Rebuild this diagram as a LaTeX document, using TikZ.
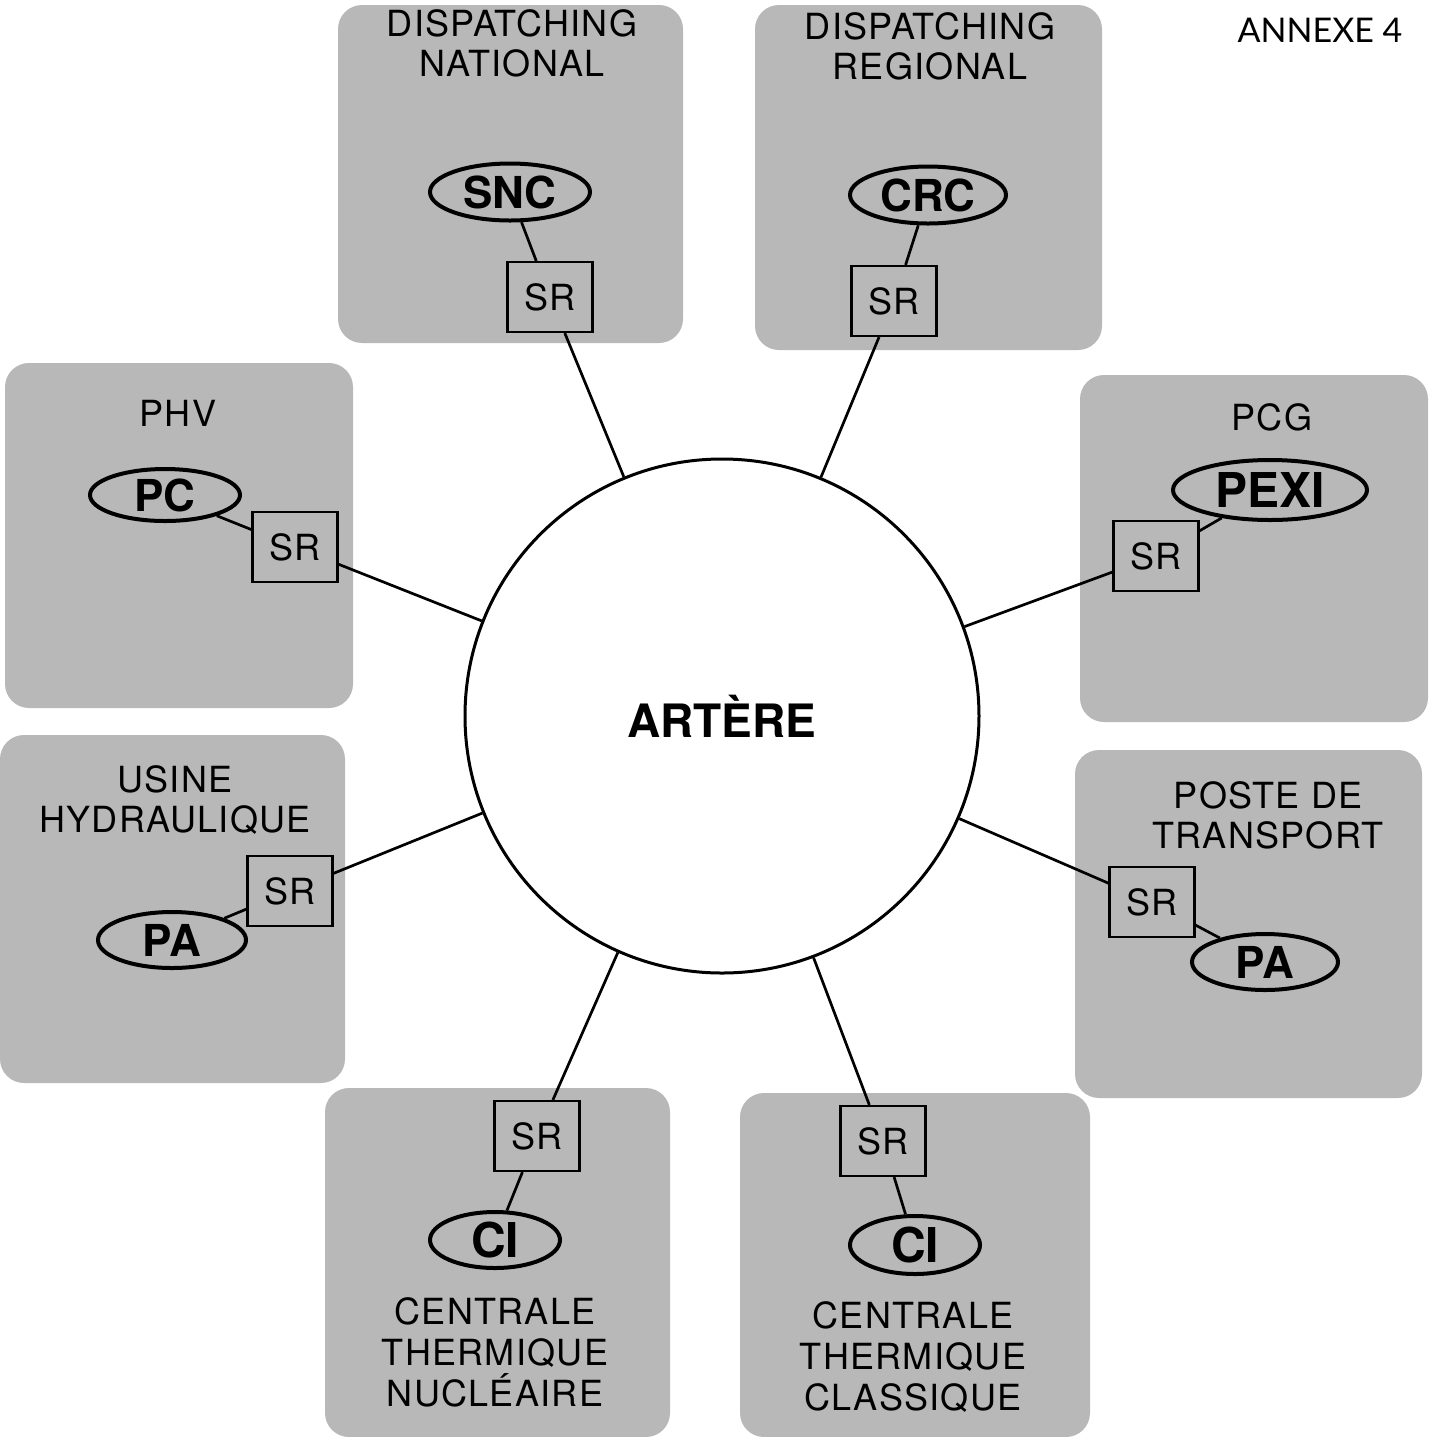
\documentclass[tikz,border=0pt]{standalone}
\usepackage{fontspec}
\setmainfont{TeX Gyre Heros}
\newfontfamily\annexfont{Lato}
\newfontfamily\spacedfont[LetterSpace=3.5]{TeX Gyre Heros}
\usetikzlibrary{shapes.geometric}
\definecolor{panelgray}{gray}{0.72}
\begin{document}
\begin{tikzpicture}[x=0.5pt,y=-0.5pt,
 panel/.style={fill=panelgray, rounded corners=12pt},
 lbl/.style={align=center, font=\spacedfont\fontsize{18}{20}\selectfont, inner sep=0pt},
 oval/.style={ellipse, draw, line width=2pt, fill=panelgray, inner sep=0pt, font=\fontsize{22}{24}\selectfont\bfseries},
 srbox/.style={draw, line width=1.1pt, minimum width=42.5pt, minimum height=35pt, inner sep=0pt, font=\spacedfont\fontsize{18}{20}\selectfont},
 link/.style={line width=1.35pt}]
\useasboundingbox (0,0) rectangle (1431,1437);
% panels
\fill[panel] (338,5) rectangle (683,343);
\fill[panel] (755,5) rectangle (1102,350);
\fill[panel] (5,363) rectangle (353,708);
\fill[panel] (1080,375) rectangle (1428,722);
\fill[panel] (0,735) rectangle (345,1083);
\fill[panel] (1075,750) rectangle (1422,1098);
\fill[panel] (325,1088) rectangle (670,1437);
\fill[panel] (740,1093) rectangle (1090,1437);
% titles
\node[lbl] (t1) at (512,43) {DISPATCHING\\NATIONAL};
\node[lbl] (t2) at (930,46) {DISPATCHING\\REGIONAL};
\node[lbl] (t3) at (178,413) {PHV};
\node[lbl] (t4) at (1272,417) {PCG};
\node[lbl] (t5) at (175,800) {USINE\\HYDRAULIQUE};
\node[lbl] (t6) at (1268,815) {POSTE DE\\TRANSPORT};
\node[lbl, font=\spacedfont\fontsize{18}{20.5}\selectfont] (t7) at (495,1352) {CENTRALE\\THERMIQUE\\NUCLÉAIRE};
\node[lbl, font=\spacedfont\fontsize{18}{20.5}\selectfont] (t8) at (913,1357) {CENTRALE\\THERMIQUE\\CLASSIQUE};
\node[inner sep=0pt, font=\annexfont\fontsize{17}{20}\selectfont] (annex) at (1320,30) {ANNEXE 4};
% central circle
\node[circle, draw, line width=1.5pt, fill=white, minimum size=257pt, inner sep=0pt,
      font=\fontsize{23}{26}\selectfont\bfseries] (art) at (722,716) {ARTÈRE};
% ovals
\node[oval, minimum width=80pt, minimum height=28.5pt] (snc) at (510,192) {SNC};
\node[oval, minimum width=78pt, minimum height=28.5pt] (crc) at (928,195) {CRC};
\node[oval, minimum width=75pt, minimum height=26pt] (pc) at (165,495) {PC};
\node[oval, minimum width=97pt, minimum height=30pt, font=\fontsize{24}{26}\selectfont\bfseries] (pexi) at (1270,490) {PEXI};
\node[oval, minimum width=74pt, minimum height=28pt] (pa1) at (172,940) {PA};
\node[oval, minimum width=73pt, minimum height=28pt] (pa2) at (1265,962) {PA};
\node[oval, minimum width=65pt, minimum height=28pt, font=\fontsize{24}{26}\selectfont\bfseries] (ci1) at (495,1240) {CI};
\node[oval, minimum width=65pt, minimum height=29pt, font=\fontsize{24}{26}\selectfont\bfseries] (ci2) at (915,1245) {CI};
% SR boxes
\node[srbox] (sr1) at (550,297) {SR};
\node[srbox] (sr2) at (894,301) {SR};
\node[srbox] (sr3) at (295,547) {SR};
\node[srbox] (sr4) at (1156,556) {SR};
\node[srbox] (sr5) at (290,891) {SR};
\node[srbox] (sr6) at (1152,902) {SR};
\node[srbox] (sr7) at (537,1136) {SR};
\node[srbox] (sr8) at (883,1141) {SR};
% connectors
\foreach \o/\s in {snc/sr1, crc/sr2, pc/sr3, pexi/sr4, pa1/sr5, pa2/sr6, ci1/sr7, ci2/sr8}{
  \draw[link] (\o) -- (\s);
  \draw[link] (\s) -- (art);
}
\end{tikzpicture}
\end{document}
